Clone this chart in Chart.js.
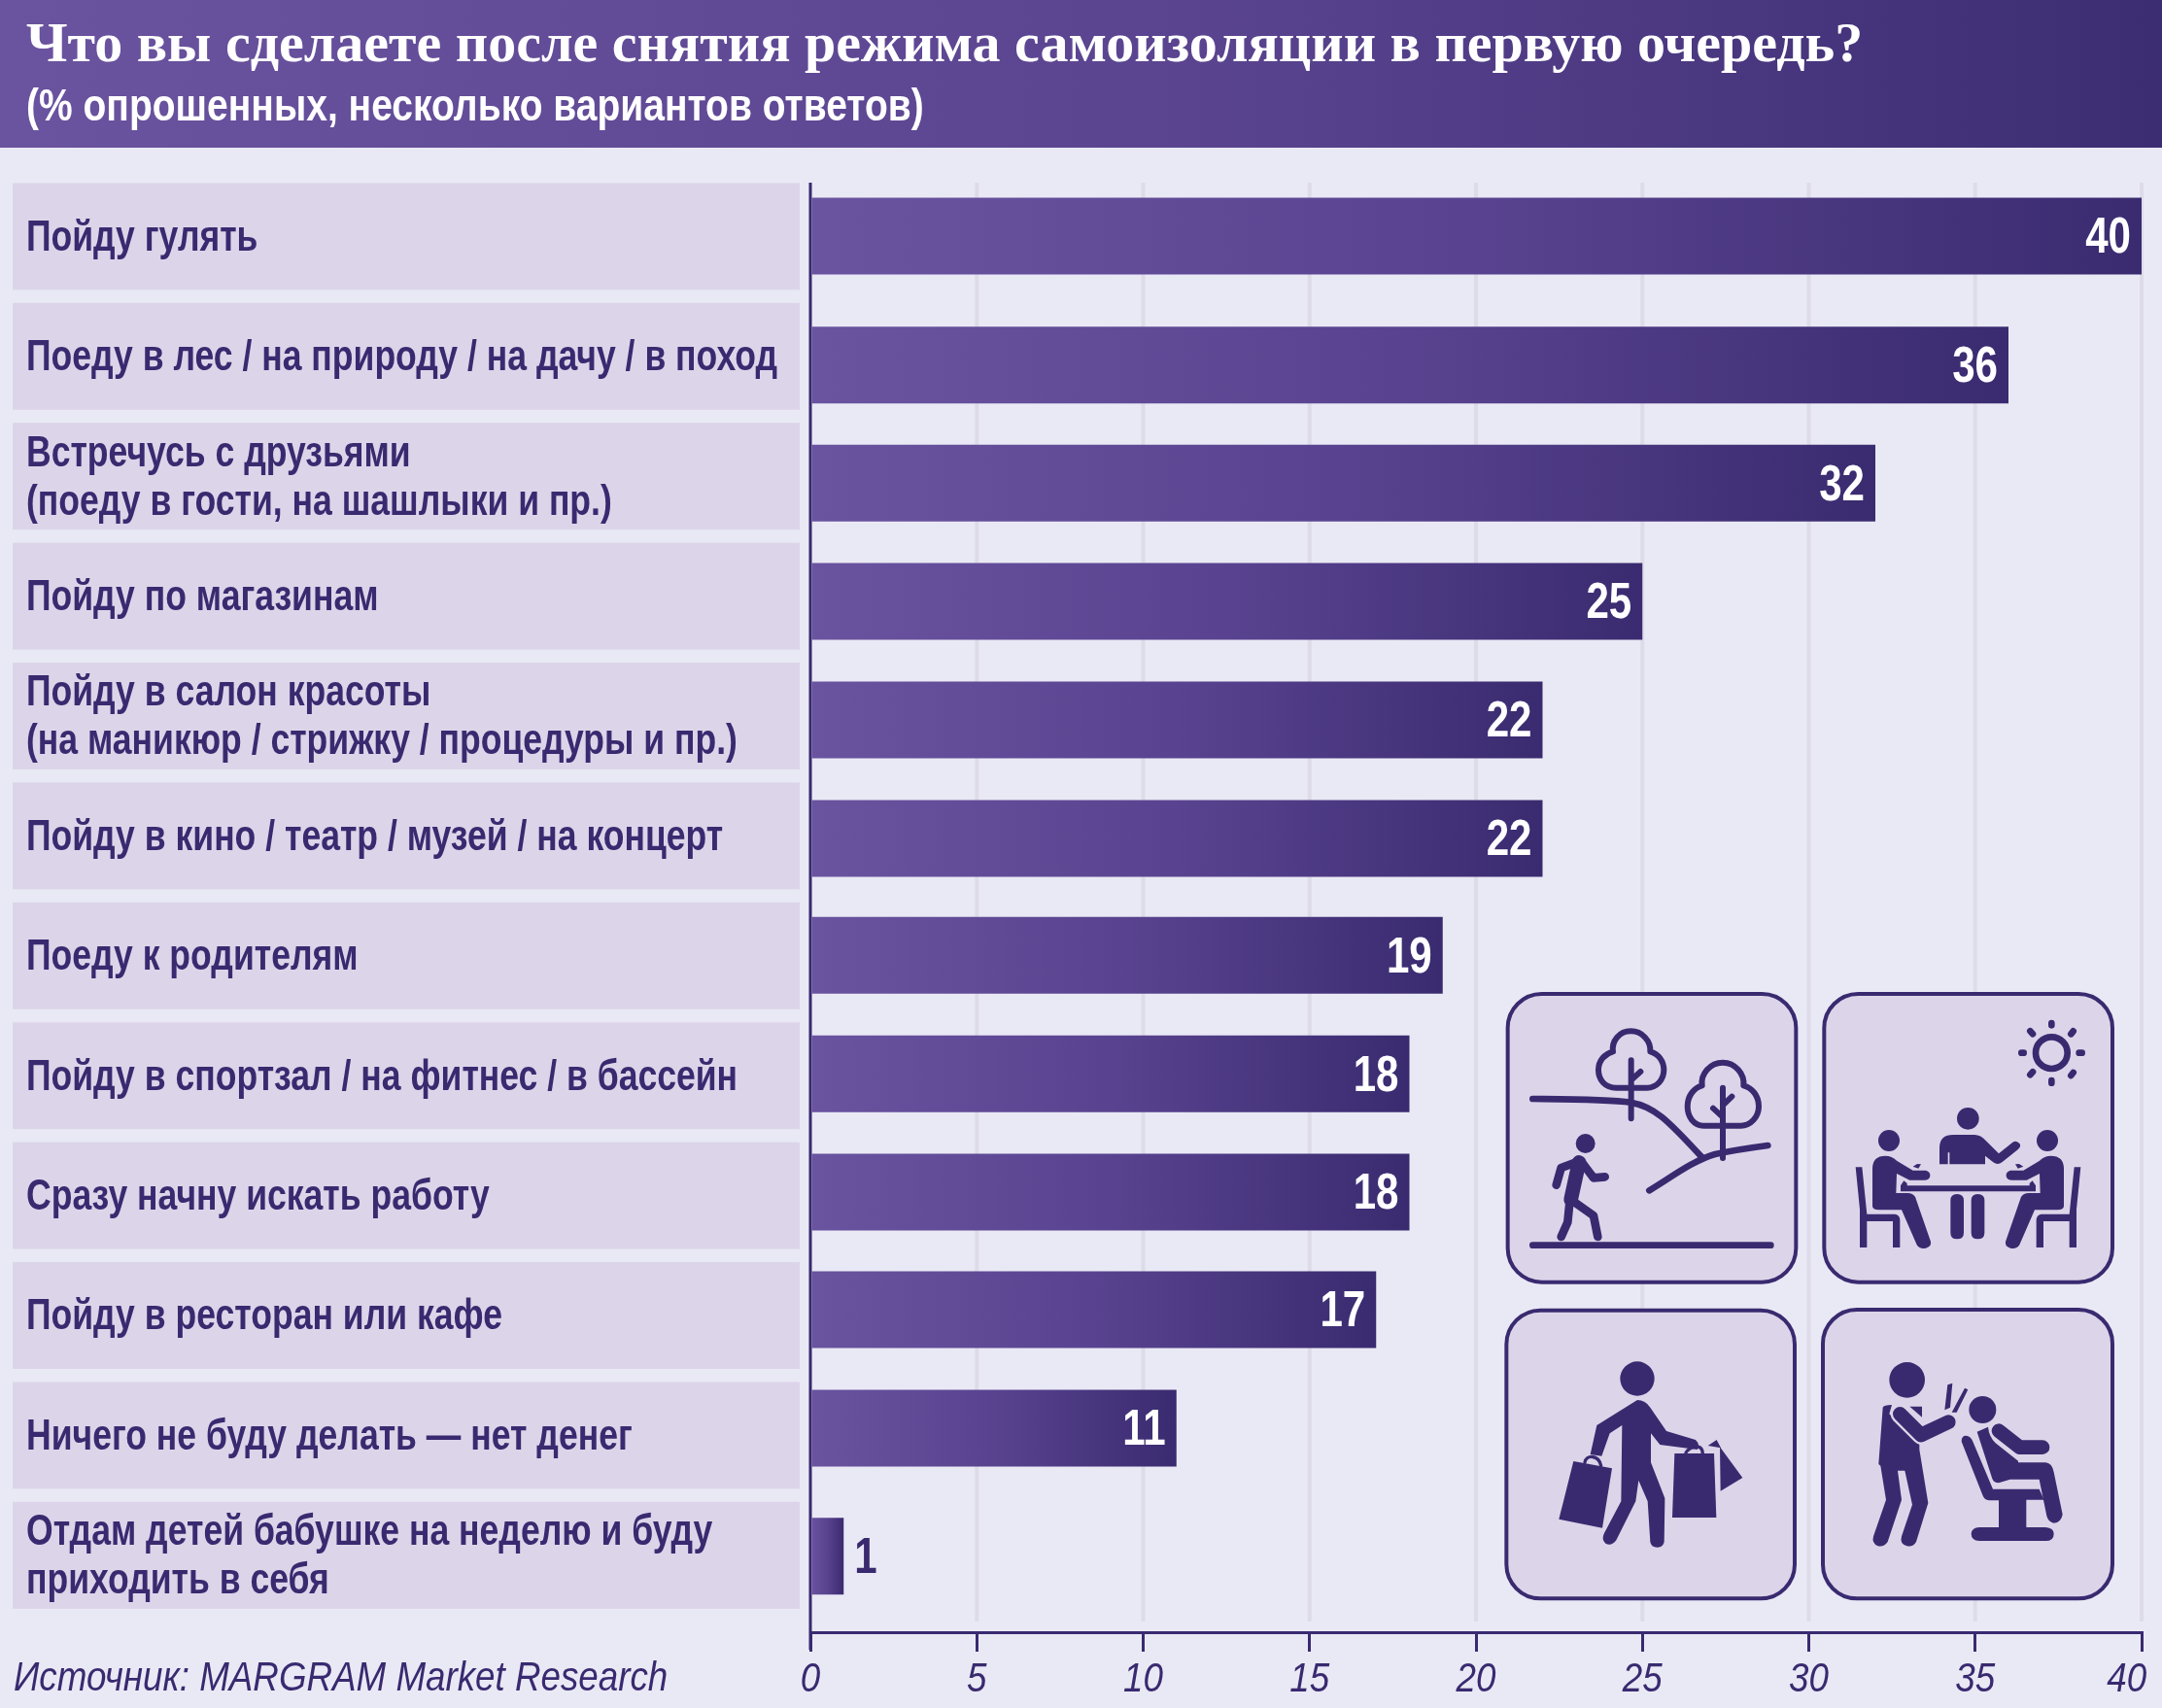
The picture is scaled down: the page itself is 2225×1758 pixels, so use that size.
<!DOCTYPE html>
<html lang="ru">
<head>
<meta charset="utf-8">
<title>Что вы сделаете после снятия режима самоизоляции в первую очередь?</title>
<style>html,body{margin:0;padding:0;background:#e9e9f5}canvas{display:block}</style>
<script src="https://cdn.jsdelivr.net/npm/chart.js@4"></script>
</head>
<body>
<canvas id="c" width="2225" height="1758"></canvas>
<script>
const titleText = 'Что вы сделаете после снятия режима самоизоляции в первую очередь?';
const subtitleText = '(% опрошенных, несколько вариантов ответов)';
const sourceText = 'Источник: MARGRAM Market Research';
const categories = [
  'Пойду гулять',
  'Поеду в лес / на природу / на дачу / в поход',
  ['Встречусь с друзьями', '(поеду в гости, на шашлыки и пр.)'],
  'Пойду по магазинам',
  ['Пойду в салон красоты', '(на маникюр / стрижку / процедуры и пр.)'],
  'Пойду в кино / театр / музей / на концерт',
  'Поеду к родителям',
  'Пойду в спортзал / на фитнес / в бассейн',
  'Сразу начну искать работу',
  'Пойду в ресторан или кафе',
  'Ничего не буду делать — нет денег',
  ['Отдам детей бабушке на неделю и буду', 'приходить в себя']
];
const values = [40, 36, 32, 25, 22, 22, 19, 18, 18, 17, 11, 1];
const axisTicks = [0, 5, 10, 15, 20, 25, 30, 35, 40];

const DARK = '#392a70', PANEL = '#dcd5e9', BG = '#e9e9f5', GRID = '#dedbe9';
const SANS = '"Liberation Sans", sans-serif';
const barNudge = [-1, 8.5, 6.5, 5, 3.5, 2, -1, -2.5, -4, -6.5, -8, 0.5];

/* no condensed face is installed: squeeze Liberation Sans horizontally per font size */
const condense = { 45: 0.79, 46: 0.848, 43: 0.855, 52: 0.81 };
const canvasEl = document.getElementById('c');
const ctx2d = canvasEl.getContext('2d');
const rawFillText = ctx2d.fillText;
ctx2d.fillText = function (t, x, y, mw) {
  const m = /(\d+)px "Liberation Sans"/.exec(this.font);
  const sx = m ? condense[m[1]] : undefined;
  if (!sx) return rawFillText.call(this, t, x, y, mw);
  this.save();
  this.translate(x, y + (m[1] === '45' ? 1.5 : 0));
  this.scale(sx, 1);
  rawFillText.call(this, t, 0, 0);
  this.restore();
};

function barGradient(ctx, x0, x1) {
  const g = ctx.createLinearGradient(x0, 0, x1, 0);
  g.addColorStop(0, '#6a539f');
  g.addColorStop(0.5, '#594390');
  g.addColorStop(1, '#3a2b70');
  return g;
}

/* decorative pictograms, authored in a 930-unit crop space */
const icons = [
  { ox: 1545, oy: 1018, box: [20, 15, 890, 890],
    strokes: [
      [20, 'M97 791L832 791'],
      [20, 'M97 339C200 340 330 340 400 350C470 362 510 400 620 520'],
      [20, 'M457 622C520 585 590 530 660 510C720 497 770 490 823 483'],
      [18, 'M401 220L401 400M405 278L430 255'],
      [18, 'M355 305C320 305 300 280 300 250C300 220 320 200 345 193C340 160 365 130 400 130C435 130 462 160 460 193C485 200 502 222 502 250C502 280 480 305 450 305Z'],
      [18, 'M684 305L684 522M688 355L712 332M654 368L680 392'],
      [18, 'M625 422C595 422 575 395 575 362C575 330 595 305 620 298C615 262 645 227 684 227C722 227 752 262 748 298C775 305 795 330 795 362C795 395 770 422 740 422Z'],
      [26, 'M170 605L185 552L245 530L285 583L320 580'],
      [44, 'M240 535L215 650'],
      [26, 'M212 650L205 720L185 765M215 650L285 700L298 765']
    ],
    fills: ['M290 477A30 30 0 1 1 230 477A30 30 0 1 1 290 477Z'] },
  { ox: 1872, oy: 1018, box: [16, 15, 890, 890],
    strokes: [
      [20, 'M718 197m-49 0a49 49 0 1 0 98 0a49 49 0 1 0 -98 0'],
      [20, 'M718 105V112M718 282V290M625 197H632M803 197H812M652 130L660 139M785 130L778 139M652 265L660 256M785 258L778 267']
    ],
    fills: [
      'M494 400A34 34 0 1 1 426 400A34 34 0 1 1 494 400Z',
      'M372 541V490Q372 450 415 450H480Q500 450 515 468L555 508L598 473Q610 465 620 478Q625 488 612 497L565 535Q552 545 538 535L513 515V541H403V505H398V541Z',
      'M249 468A33 33 0 1 1 183 468A33 33 0 1 1 249 468Z',
      'M165 670V555Q165 515 205 515Q225 515 240 530L290 560H330Q345 565 343 578Q340 590 325 590L280 590L240 570L238 630H275Q295 630 300 650L345 780Q348 795 330 800Q312 805 302 790L255 682H185Q165 682 165 670Z',
      'M113 550L133 550L148 695H235Q250 697 250 715V798H228V717H148V798H126V680Z',
      'M290 548L303 540L315 541L307 554Z',
      'M738 468A33 33 0 1 1 672 468A33 33 0 1 1 738 468Z',
      'M756 670V555Q756 515 716 515Q696 515 681 530L631 560H591Q576 565 578 578Q581 590 596 590L641 590L681 570L683 630H646Q626 630 621 650L576 780Q573 795 591 800Q609 805 619 790L666 682H736Q756 682 756 670Z',
      'M808 550L788 550L773 695H686Q671 697 671 715V798H693V717H773V798H795V680Z',
      'M631 548L618 540L606 541L614 554Z',
      'M252 607L262 592L272 600V607H650V600L659 592L669 607V625H252Z',
      'M406 653Q406 633 426 633Q447 633 447 653V752Q447 772 426 772Q406 772 406 752Z',
      'M470 653Q470 633 490 633Q511 633 511 653V752Q511 772 490 772Q470 772 470 752Z'
    ] },
  { ox: 1545, oy: 1342, box: [16, 20, 890, 890],
    strokes: [
      [10, 'M258 490C262 465 300 465 308 500'],
      [10, 'M570 460C575 445 620 425 622 462']
    ],
    fills: [
      'M473 231A53 53 0 1 1 367 231A53 53 0 1 1 473 231Z',
      'M420 297Q445 297 460 320L510 393L600 420Q615 435 605 450L490 435L462 400V490L505 600V610L503 735Q500 752 482 752Q462 752 460 735L452 610L424 545L415 610L355 730Q340 750 322 740Q308 728 318 708L370 610L373 375L335 400L310 470L275 465L295 375Z',
      'M223 486L342 508L312 692L178 665Z',
      'M535 462H657L664 660H528Z',
      'M675 442L745 537L677 578Z',
      'M638 438L665 420L678 445Z'
    ] },
  { ox: 1872, oy: 1342, box: [12, 18, 894, 892],
    strokes: [],
    fills: [
      'M327 235A55 55 0 1 1 217 235A55 55 0 1 1 327 235Z',
      'M197 320Q200 312 225 312L217 340L310 435V450L337 615L300 735Q290 752 272 748Q248 742 255 718L288 620L265 515H243L255 605L212 735Q200 752 182 748Q162 740 168 718L207 605L190 500L184 495Z',
      'M280 317H318V350Z',
      'M388 328L397 250L412 245L405 320Z',
      'M410 335L450 260L460 265L425 335Z',
      'M547 327A42 42 0 1 1 463 327A42 42 0 1 1 547 327Z',
      'M440 425Q440 405 458 408Q470 412 475 425L537 572H680L695 605H640V690H700Q725 692 725 710Q725 732 700 732H495Q470 730 470 710Q472 690 495 690H555V607H525Q510 605 505 590Z',
      'M488 395L522 380Q525 410 545 430L615 485V490H700Q720 492 725 520L752 650Q748 675 725 677Q708 675 703 655L680 542H590L555 553Q540 553 535 540Z'
    ],
    halos: [
      [44, 'M250 340L315 405L400 365'],
      [44, 'M555 392L620 443H690']
    ] }
];

const decorPlugin = {
  id: 'decor',
  afterDatasetsUpdate(chart) {
    const meta = chart.getDatasetMeta(0);
    meta.data.forEach((el, i) => { el.y += barNudge[i]; });
  },
  beforeDraw(chart) {
    const { ctx, width, scales: { x, y } } = chart;
    ctx.save();
    ctx.fillStyle = BG;
    ctx.fillRect(0, 0, width, chart.height);
    const hdr = ctx.createLinearGradient(0, 0, width, 0);
    hdr.addColorStop(0, '#6a539f');
    hdr.addColorStop(0.55, '#5a4490');
    hdr.addColorStop(1, '#3c2d72');
    ctx.fillStyle = hdr;
    ctx.fillRect(0, 0, width, 152);
    /* category panels */
    ctx.fillStyle = PANEL;
    categories.forEach((_, i) => {
      ctx.fillRect(13, y.getPixelForTick(i) - 55.5, 810, 110);
    });
    /* vertical grid */
    ctx.strokeStyle = GRID;
    ctx.lineWidth = 4;
    axisTicks.slice(1).forEach(v => {
      const px = x.getPixelForValue(v);
      ctx.beginPath();
      ctx.moveTo(px, 188);
      ctx.lineTo(px, 1669);
      ctx.stroke();
    });
    /* category axis line */
    ctx.strokeStyle = DARK;
    ctx.lineWidth = 3;
    ctx.beginPath();
    ctx.moveTo(x.getPixelForValue(0), 188);
    ctx.lineTo(x.getPixelForValue(0), 1698);
    ctx.stroke();
    ctx.restore();
  },
  afterDatasetsDraw(chart) {
    const { ctx } = chart;
    const meta = chart.getDatasetMeta(0);
    ctx.save();
    ctx.font = 'bold 52px ' + SANS;
    ctx.textBaseline = 'middle';
    meta.data.forEach((el, i) => {
      const inside = values[i] > 1;
      ctx.fillStyle = inside ? '#ffffff' : DARK;
      ctx.textAlign = inside ? 'right' : 'left';
      ctx.fillText(String(values[i]), el.x + (inside ? -11 : 11), el.y + 3);
    });
    /* source */
    ctx.fillStyle = DARK;
    ctx.textAlign = 'left';
    ctx.font = 'italic 43px ' + SANS;
    ctx.fillText(sourceText, 14, 1728);
    /* pictograms */
    icons.forEach(ic => {
      ctx.save();
      ctx.translate(ic.ox, ic.oy);
      ctx.scale(1 / 3, 1 / 3);
      ctx.lineCap = 'round';
      ctx.lineJoin = 'round';
      ctx.beginPath();
      ctx.roundRect(ic.box[0], ic.box[1], ic.box[2], ic.box[3], 105);
      ctx.fillStyle = PANEL;
      ctx.fill();
      ctx.lineWidth = 12;
      ctx.strokeStyle = DARK;
      ctx.stroke();
      ctx.fillStyle = DARK;
      ic.fills.forEach(d => ctx.fill(new Path2D(d)));
      ic.strokes.forEach(([w, d]) => {
        ctx.lineWidth = w;
        ctx.stroke(new Path2D(d));
      });
      (ic.halos || []).forEach(([w, d]) => {
        const p = new Path2D(d);
        ctx.lineWidth = w + 14;
        ctx.strokeStyle = PANEL;
        ctx.stroke(p);
        ctx.lineWidth = w;
        ctx.strokeStyle = DARK;
        ctx.stroke(p);
      });
      ctx.restore();
    });
    ctx.restore();
  }
};

new Chart(canvasEl, {
  type: 'bar',
  data: {
    labels: categories,
    datasets: [{
      data: values,
      barPercentage: 0.64,
      categoryPercentage: 1,
      borderSkipped: false,
      backgroundColor(c) {
        const chart = c.chart;
        if (!chart.chartArea || c.raw === undefined) return '#5a4490';
        const x = chart.scales.x;
        return barGradient(chart.ctx, x.getPixelForValue(0), x.getPixelForValue(c.raw));
      }
    }]
  },
  options: {
    indexAxis: 'y',
    responsive: false,
    devicePixelRatio: 1,
    animation: false,
    layout: { padding: { left: 27, right: 21, top: 0, bottom: 95 } },
    plugins: {
      legend: { display: false },
      tooltip: { enabled: false },
      title: {
        display: true, text: titleText, align: 'start', color: '#ffffff',
        font: { family: '"Liberation Serif", serif', weight: 'bold', size: 58, lineHeight: 1.2 },
        padding: { top: 13, bottom: 0 }
      },
      subtitle: {
        display: true, text: subtitleText, align: 'start', color: '#ffffff',
        font: { family: SANS, weight: 'bold', size: 46, lineHeight: 1.2 },
        padding: { top: 1, bottom: 43.4 }
      }
    },
    scales: {
      x: {
        type: 'linear', min: 0, max: 40,
        position: { y: 11.638 },
        afterBuildTicks(s) { s.ticks = axisTicks.map(v => ({ value: v })); },
        afterFit(s) { s.paddingLeft = 0; s.paddingRight = 0; },
        grid: { drawOnChartArea: false, drawTicks: true, tickLength: 18, color: DARK, lineWidth: 3 },
        border: { display: true, color: DARK, width: 3 },
        ticks: {
          color: DARK, padding: 5, maxRotation: 0, autoSkip: false,
          font: { family: SANS, style: 'italic', size: 43 },
          callback: v => v === 40 ? '40   ' : String(v)
        }
      },
      y: {
        type: 'category',
        grid: { display: false },
        border: { display: false },
        afterFit(s) { s.width = 807; },
        ticks: {
          color: DARK, crossAlign: 'far', padding: 0, autoSkip: false,
          font: { family: SANS, weight: 'bold', size: 45, lineHeight: 1.11 }
        }
      }
    }
  },
  plugins: [decorPlugin]
});
</script>
</body>
</html>
